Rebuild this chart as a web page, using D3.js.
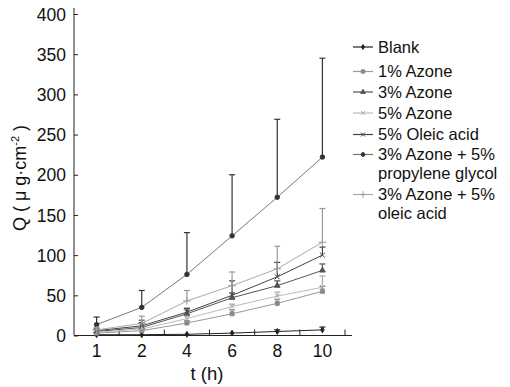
<!DOCTYPE html>
<html>
<head>
<meta charset="utf-8">
<script src="https://cdn.jsdelivr.net/npm/d3@7"></script>
<style>
  body { margin: 0; background: #fff; }
  svg text { font-family: "Liberation Sans", Arial, sans-serif; fill: #111; }
</style>
</head>
<body>
<svg id="chart" width="510" height="387"></svg>
<script>
// time points (h)
const times = ["1", "2", "4", "6", "8", "10"];
const yTicks = [0, 50, 100, 150, 200, 250, 300, 350, 400];

// mean Q values per formulation
const blank   = [1, 1, 1.5, 3, 5, 7];
const azone1  = [3, 6, 15.5, 27, 40, 55];
const azone3  = [5, 10, 27, 47, 62, 81];
const azone5  = [4, 8, 21, 36, 49, 60];
const oleic5  = [6, 12, 29, 50, 73, 100];
const azonePG = [13.5, 35, 76, 124, 172, 222];
const azoneOA = [7, 15, 43, 62, 83, 116];

// upper error (SD)
const blankSd   = [0, 0, 0, 0, 2, 3.5];
const azone1Sd  = [1, 2, 3, 5, 5, 6];
const azone3Sd  = [2, 9, 6, 6, 6, 8];
const azone5Sd  = [1, 2, 3, 3, 5, 14];
const oleic5Sd  = [2, 4, 5, 18, 18, 10];
const azonePGSd = [9.5, 21, 52, 76, 97, 123];
const azoneOASd = [3, 9, 13, 17, 28, 42];

const series = [
    {name: "Blank", lines: ["Blank"], values: blank, sd: blankSd, line: "#222", mark: "#222", sym: d3.symbolDiamond, size: 10, filled: true},
    {name: "1% Azone", lines: ["1% Azone"], values: azone1, sd: azone1Sd, line: "#999", mark: "#8a8a8a", sym: d3.symbolSquare, size: 16, filled: true},
    {name: "3% Azone", lines: ["3% Azone"], values: azone3, sd: azone3Sd, line: "#555", mark: "#555", sym: d3.symbolTriangle, size: 14, filled: true},
    {name: "5% Azone", lines: ["5% Azone"], values: azone5, sd: azone5Sd, line: "#bbb", mark: "#aaa", sym: d3.symbolX, size: 16, filled: false},
    {name: "5% Oleic acid", lines: ["5% Oleic acid"], values: oleic5, sd: oleic5Sd, line: "#444", mark: "#444", sym: d3.symbolX, size: 18, filled: false},
    {name: "PG", lines: ["3% Azone + 5%", "propylene glycol"], values: azonePG, sd: azonePGSd, line: "#777", mark: "#333", sym: d3.symbolCircle, size: 16, filled: true},
    {name: "OA", lines: ["3% Azone + 5%", "oleic acid"], values: azoneOA, sd: azoneOASd, line: "#aaa", mark: "#999", sym: d3.symbolPlus, size: 22, filled: false}
];

const svg = d3.select("#chart");

const x = d3.scaleBand().domain(times).range([74, 345]).padding(0);
const y = d3.scaleLinear().domain([0, 400]).range([335.5, 14]);
const cx = d => x(d) + x.bandwidth() / 2;

// y axis
const yAxis = svg.append("g").attr("transform", "translate(74,0)")
    .call(d3.axisLeft(y).tickValues(yTicks).tickSizeInner(-4).tickSizeOuter(0).tickPadding(8));
yAxis.select(".domain").remove();
yAxis.selectAll("text").attr("font-size", 17.5).attr("dy", "0.35em");
yAxis.selectAll("line").attr("stroke", "#222");
svg.append("line").attr("x1", 74).attr("x2", 74).attr("y1", 8).attr("y2", y(0))
    .attr("stroke", "#222");

// x axis: labels at band centers, ticks at band edges
const xAxis = svg.append("g").attr("transform", `translate(0,${y(0)})`)
    .call(d3.axisBottom(x).tickSize(0).tickPadding(9));
xAxis.select(".domain").remove();
xAxis.selectAll("text").attr("font-size", 17.5);
svg.append("line").attr("x1", 74).attr("x2", 352).attr("y1", y(0)).attr("y2", y(0))
    .attr("stroke", "#222");
svg.append("g").selectAll("line").data(times).join("line")
    .attr("x1", d => x(d) + x.bandwidth()).attr("x2", d => x(d) + x.bandwidth())
    .attr("y1", y(0)).attr("y2", y(0) - 6).attr("stroke", "#222");

// axis titles
svg.append("text").attr("x", 207).attr("y", 380).attr("text-anchor", "middle")
    .attr("font-size", 18.5).text("t (h)");
const yt = svg.append("text").attr("transform", "translate(26,178) rotate(-90)")
    .attr("text-anchor", "middle").attr("font-size", 18);
yt.append("tspan").text("Q ( \u03bc g\u00b7cm");
yt.append("tspan").attr("font-size", 11).attr("dy", -7).text("-2");
yt.append("tspan").attr("dy", 7).text(" )");

// plot
const line = d3.line().x((d, i) => cx(times[i])).y(d => y(d));
const plot = svg.append("g");

series.forEach(s => {
    const g = plot.append("g");
    // upper error bars
    s.values.forEach((v, i) => {
        if (!s.sd[i]) return;
        const px = cx(times[i]);
        g.append("line").attr("x1", px).attr("x2", px).attr("y1", y(v)).attr("y2", y(v + s.sd[i]))
            .attr("stroke", s.mark).attr("stroke-width", 1.2);
        g.append("line").attr("x1", px - 3).attr("x2", px + 3).attr("y1", y(v + s.sd[i])).attr("y2", y(v + s.sd[i]))
            .attr("stroke", s.mark).attr("stroke-width", 1.2);
    });
    g.append("path").datum(s.values).attr("d", line)
        .attr("fill", "none").attr("stroke", s.line).attr("stroke-width", 1);
    g.selectAll("path.m").data(s.values).join("path").attr("class", "m")
        .attr("transform", (d, i) => `translate(${cx(times[i])},${y(d)})`)
        .attr("d", d3.symbol().type(s.sym).size(s.size))
        .attr("fill", s.filled ? s.mark : "none").attr("stroke", s.mark).attr("stroke-width", 1);
});

// legend
const legendRows = [47, 71.5, 92, 113, 134.5, 154.5, 194.5];
const legend = svg.append("g");
series.forEach((s, i) => {
    const ly = legendRows[i];
    legend.append("line").attr("x1", 353).attr("x2", 373).attr("y1", ly).attr("y2", ly)
        .attr("stroke", s.line).attr("stroke-width", 1.2);
    legend.append("path").attr("transform", `translate(363,${ly})`)
        .attr("d", d3.symbol().type(s.sym).size(s.size * 0.7))
        .attr("fill", s.filled ? s.mark : "none").attr("stroke", s.mark).attr("stroke-width", 1);
    // one text per entry, wrapped lines as tspans
    const lt = legend.append("text").attr("y", ly).attr("font-size", 16.5);
    s.lines.forEach((t, j) => {
        lt.append("tspan").attr("x", 378).attr("dy", j === 0 ? "0.36em" : 18.6).text(t);
    });
});
</script>
</body>
</html>
